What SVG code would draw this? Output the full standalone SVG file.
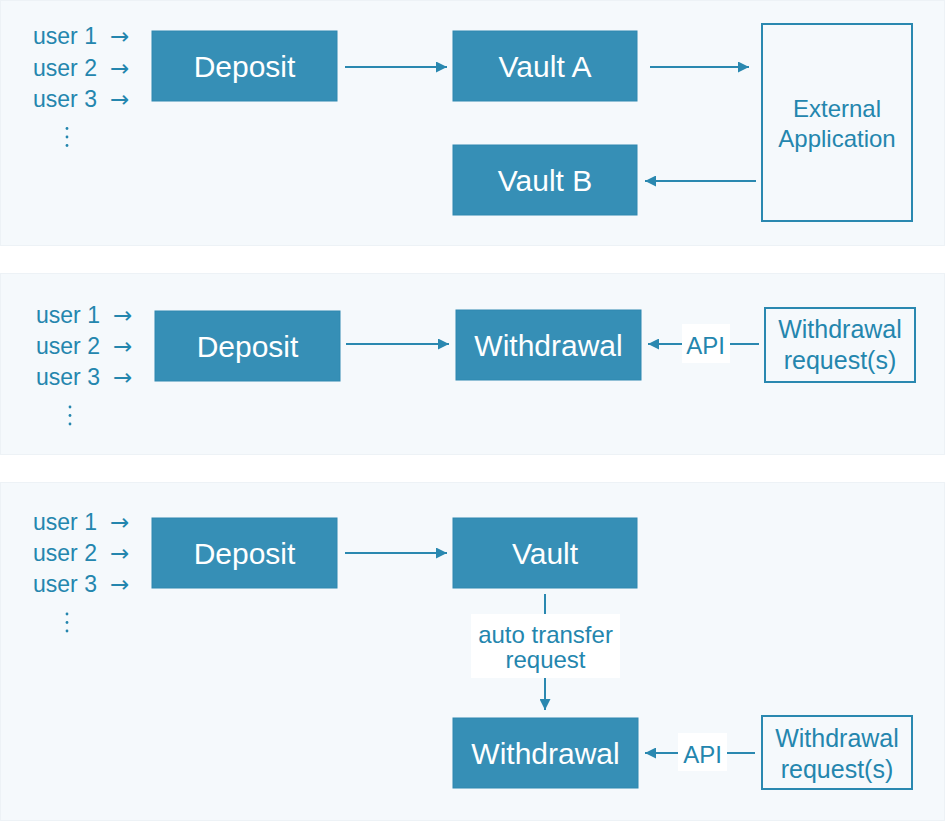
<svg xmlns="http://www.w3.org/2000/svg" width="945" height="822" viewBox="0 0 945 822">
<defs>
<marker id="ah" viewBox="0 0 10 10" refX="10" refY="5" markerWidth="5.5" markerHeight="5.5" orient="auto" markerUnits="strokeWidth">
<path d="M0,0 L10,5 L0,10 z" fill="#2a88b0"/>
</marker>
</defs>
<style>
.panel{fill:#f5f9fc;stroke:#edf2f6;stroke-width:1}
.box{fill:#368fb6;stroke:#2f88b0;stroke-width:1}
.obox{fill:none;stroke:#2a88b0;stroke-width:2}
.bt{font-family:"Liberation Sans",Arial,sans-serif;font-size:30px;fill:#ffffff;text-anchor:middle}
.ot{font-family:"Liberation Sans",Arial,sans-serif;font-size:24px;fill:#2486ae;text-anchor:middle}
.ut{font-family:"Liberation Sans",Arial,sans-serif;font-size:23px;fill:#2486ae}
.ar{font-family:"DejaVu Sans",sans-serif;font-size:23px}
.ln{stroke:#2a88b0;stroke-width:2;fill:none}
.lbg{fill:#ffffff}
.dot{fill:#2486ae}
</style>
<rect width="945" height="822" fill="#ffffff"/>
<rect class="panel" x="0.5" y="0.5" width="944" height="245"/>
<rect class="panel" x="0.5" y="273.5" width="944" height="181"/>
<rect class="panel" x="0.5" y="482.5" width="944" height="338"/>

<!-- Panel 1 -->
<g id="users1">
<text class="ut" x="33" y="44">user 1<tspan class="ar" x="110">→</tspan></text>
<text class="ut" x="33" y="76">user 2<tspan class="ar" x="110">→</tspan></text>
<text class="ut" x="33" y="107">user 3<tspan class="ar" x="110">→</tspan></text>
<circle class="dot" cx="67" cy="128.5" r="1.4"/><circle class="dot" cx="67" cy="137" r="1.4"/><circle class="dot" cx="67" cy="145.5" r="1.4"/>
</g>
<g id="deposit1"><rect class="box" x="152" y="31" width="185" height="70"/><text class="bt" x="244.5" y="77">Deposit</text></g>
<g id="vaultA"><rect class="box" x="453" y="31" width="184" height="70"/><text class="bt" x="545" y="77">Vault A</text></g>
<g id="vaultB"><rect class="box" x="453" y="145" width="184" height="70"/><text class="bt" x="545" y="191">Vault B</text></g>
<g id="external"><rect class="obox" x="762" y="24" width="150" height="197"/><text class="ot" x="837" y="117">External</text><text class="ot" x="837" y="147">Application</text></g>

<!-- Panel 2 -->
<g id="users2">
<text class="ut" x="36" y="323">user 1<tspan class="ar" x="113">→</tspan></text>
<text class="ut" x="36" y="354">user 2<tspan class="ar" x="113">→</tspan></text>
<text class="ut" x="36" y="385">user 3<tspan class="ar" x="113">→</tspan></text>
<circle class="dot" cx="70" cy="407" r="1.4"/><circle class="dot" cx="70" cy="415.5" r="1.4"/><circle class="dot" cx="70" cy="424" r="1.4"/>
</g>
<g id="deposit2"><rect class="box" x="155" y="311" width="185" height="70"/><text class="bt" x="247.5" y="357">Deposit</text></g>
<g id="withdrawal2"><rect class="box" x="456" y="310" width="185" height="70"/><text class="bt" x="548.5" y="356">Withdrawal</text></g>
<g id="request2"><rect class="obox" x="765" y="308" width="150" height="74"/><text class="ot" x="840" y="338" style="font-size:25px">Withdrawal</text><text class="ot" x="840" y="369" style="font-size:25px">request(s)</text></g>

<!-- Panel 3 -->
<g id="users3">
<text class="ut" x="33" y="530">user 1<tspan class="ar" x="110">→</tspan></text>
<text class="ut" x="33" y="561">user 2<tspan class="ar" x="110">→</tspan></text>
<text class="ut" x="33" y="592">user 3<tspan class="ar" x="110">→</tspan></text>
<circle class="dot" cx="67" cy="614" r="1.4"/><circle class="dot" cx="67" cy="622.5" r="1.4"/><circle class="dot" cx="67" cy="631" r="1.4"/>
</g>
<g id="deposit3"><rect class="box" x="152" y="518" width="185" height="70"/><text class="bt" x="244.5" y="564">Deposit</text></g>
<g id="vault3"><rect class="box" x="453" y="518" width="184" height="70"/><text class="bt" x="545" y="564">Vault</text></g>
<g id="withdrawal3"><rect class="box" x="453" y="718" width="185" height="70"/><text class="bt" x="545.5" y="764">Withdrawal</text></g>
<g id="request3"><rect class="obox" x="762" y="716" width="150" height="73"/><text class="ot" x="837" y="747" style="font-size:25px">Withdrawal</text><text class="ot" x="837" y="778" style="font-size:25px">request(s)</text></g>

<g id="connectors">
<line class="ln" x1="345" y1="67" x2="447" y2="67" marker-end="url(#ah)"/>
<line class="ln" x1="650" y1="67" x2="749" y2="67" marker-end="url(#ah)"/>
<line class="ln" x1="756" y1="181" x2="645" y2="181" marker-end="url(#ah)"/>

<line class="ln" x1="346" y1="344" x2="449" y2="344" marker-end="url(#ah)"/>
<line class="ln" x1="759" y1="344" x2="648" y2="344" marker-end="url(#ah)"/>
<rect class="lbg" x="682" y="324" width="48" height="39"/>
<text class="ot" x="705.5" y="354">API</text>

<line class="ln" x1="345" y1="553" x2="447" y2="553" marker-end="url(#ah)"/>
<line class="ln" x1="545" y1="594" x2="545" y2="710" marker-end="url(#ah)"/>
<rect class="lbg" x="471" y="614" width="149" height="64"/>
<text class="ot" x="545.5" y="643">auto transfer</text>
<text class="ot" x="545.5" y="668">request</text>

<line class="ln" x1="755" y1="753" x2="645" y2="753" marker-end="url(#ah)"/>
<rect class="lbg" x="678" y="733" width="49" height="38"/>
<text class="ot" x="702.5" y="763">API</text>
</g>
</svg>
